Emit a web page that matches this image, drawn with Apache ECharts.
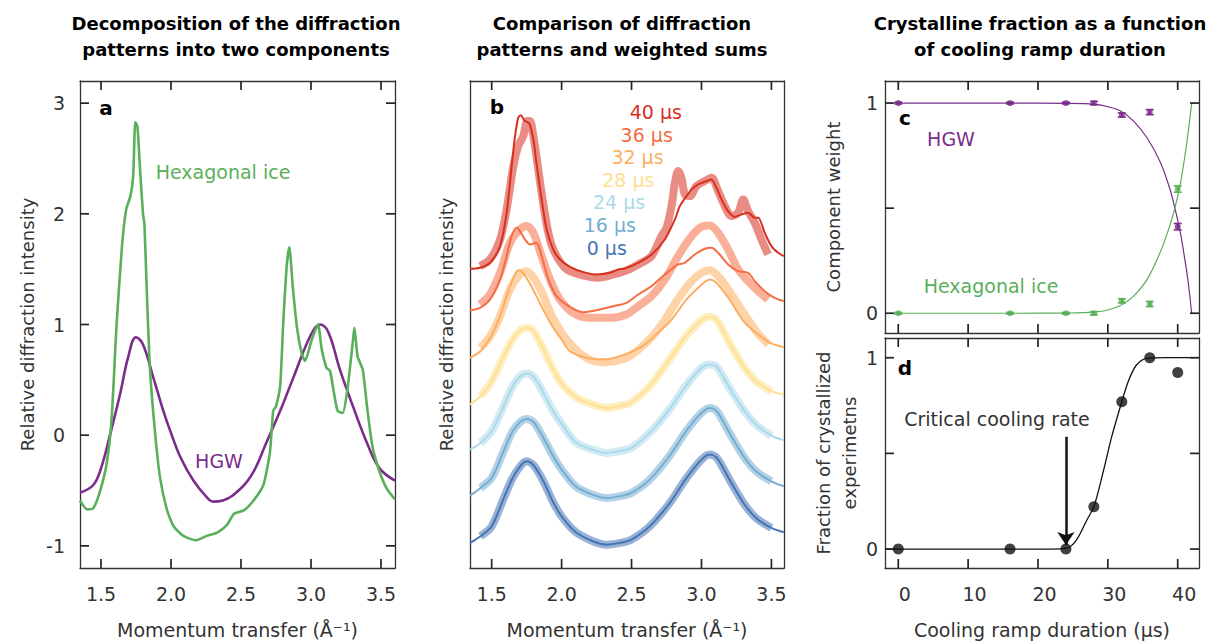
<!DOCTYPE html>
<html>
<head>
<meta charset="utf-8">
<title>Crystallization of supercooled water</title>
<script src="https://cdn.jsdelivr.net/npm/echarts@6/dist/echarts.min.js"></script>
<style>
  html, body { margin: 0; padding: 0; background: #fff; }
  #chart { width: 1210px; height: 644px; }
</style>
</head>
<body>
<div id="chart"></div>
<script>
const FONT = 'DejaVu Sans';
const INK = '#333';
const GREEN = '#5aaf5a';
const PURPLE = '#7b2d8b';

// panel a: the two components
const hgwQ = [1.35, 1.445, 1.5, 1.564, 1.636, 1.695, 1.75, 1.80, 1.874, 1.945, 2.0, 2.064, 2.16, 2.255, 2.30, 2.37, 2.5, 2.59, 2.68, 2.78, 2.874, 3.0, 3.064, 3.124, 3.207, 3.30, 3.40, 3.49, 3.6];
const hgwI = [-0.52, -0.45, -0.30, 0.0, 0.37, 0.71, 0.885, 0.82, 0.52, 0.22, 0.02, -0.19, -0.41, -0.56, -0.60, -0.59, -0.48, -0.33, -0.07, 0.22, 0.52, 0.91, 1.0, 0.93, 0.59, 0.26, -0.07, -0.30, -0.41];
const hexQ = [1.35, 1.40, 1.445, 1.49, 1.54, 1.576, 1.61, 1.65, 1.68, 1.71, 1.73, 1.745, 1.76, 1.78, 1.80, 1.81, 1.826, 1.85, 1.885, 1.92, 1.97, 2.017, 2.088, 2.18, 2.255, 2.33, 2.40, 2.45, 2.52, 2.59, 2.66, 2.707, 2.73, 2.75, 2.78, 2.80, 2.826, 2.845, 2.87, 2.90, 2.933, 2.957, 3.005, 3.05, 3.076, 3.11, 3.136, 3.16, 3.19, 3.226, 3.26, 3.30, 3.31, 3.333, 3.37, 3.40, 3.44, 3.49, 3.54, 3.6];
const hexI = [-0.59, -0.67, -0.66, -0.52, -0.26, 0.15, 0.97, 1.71, 2.04, 2.16, 2.34, 2.83, 2.79, 2.38, 2.0, 1.91, 1.34, 0.59, 0.04, -0.37, -0.67, -0.82, -0.91, -0.95, -0.91, -0.88, -0.81, -0.71, -0.68, -0.59, -0.45, -0.15, 0.22, 0.26, 0.45, 0.97, 1.52, 1.70, 1.34, 0.97, 0.74, 0.67, 0.86, 1.0, 0.78, 0.61, 0.58, 0.41, 0.22, 0.20, 0.41, 0.86, 0.97, 0.71, 0.59, 0.26, -0.11, -0.33, -0.48, -0.58];
const qTicks = [1.5, 2.0, 2.5, 3.0, 3.5];
const intensityTicks = [-1, 0, 1, 2, 3];

// panel b: measured patterns (bands) and weighted sums (lines), stacked
const qLow = [1.345, 1.42, 1.5, 1.58, 1.65, 1.71, 1.75, 1.80, 1.87, 1.94, 2.0, 2.1, 2.22, 2.32, 2.44, 2.5, 2.63, 2.77, 2.89, 3.0, 3.06, 3.11, 3.2, 3.3, 3.39, 3.5, 3.588];
const sum0 = [8.0, 10.0, 13.0, 20.8, 27.5, 31.3, 32.5, 31.3, 26.5, 20.2, 16.0, 11.3, 8.6, 7.5, 8.2, 9.0, 13.0, 19.8, 27.3, 33.0, 34.5, 33.5, 27.0, 20.0, 15.5, 12.5, 11.2];
const sum16 = [22.2, 24.5, 27.5, 35.0, 41.5, 44.5, 45.2, 44.2, 39.5, 34.0, 30.0, 25.0, 22.5, 21.5, 22.2, 23.0, 27.0, 34.0, 41.5, 47.0, 48.5, 47.5, 41.0, 34.0, 29.5, 26.5, 25.0];
const sum24 = [36.0, 38.0, 41.5, 48.5, 55.0, 58.2, 58.8, 57.8, 53.0, 47.5, 43.7, 38.2, 36.0, 35.0, 35.8, 36.5, 41.0, 48.0, 55.2, 60.5, 61.5, 60.8, 54.5, 48.0, 43.5, 40.2, 38.8];
const sum28 = [49.5, 52.0, 56.5, 63.5, 69.0, 72.0, 72.5, 71.5, 66.0, 60.0, 55.8, 51.8, 49.5, 48.5, 49.3, 50.2, 55.0, 63.0, 70.0, 74.8, 75.8, 74.8, 68.0, 61.0, 56.5, 53.5, 52.5];

const q32 = [1.345, 1.42, 1.49, 1.56, 1.607, 1.655, 1.69, 1.72, 1.77, 1.82, 1.88, 1.94, 2.0, 2.06, 2.18, 2.3, 2.45, 2.58, 2.69, 2.786, 2.893, 2.964, 3.06, 3.107, 3.2, 3.3, 3.39, 3.49, 3.588];
const sum32 = [63.5, 65.5, 69.5, 76.0, 82.0, 87.5, 89.8, 89.2, 86.0, 82.0, 77.0, 72.5, 69.0, 65.5, 63.5, 63.0, 64.5, 67.0, 71.0, 75.0, 81.0, 84.0, 87.0, 86.0, 81.0, 74.5, 71.0, 68.0, 66.7];
const qBand32 = [1.42, 1.49, 1.56, 1.63, 1.70, 1.75, 1.80, 1.86, 1.92, 2.0, 2.1, 2.2, 2.3, 2.45, 2.55, 2.65, 2.74, 2.83, 2.93, 3.0, 3.06, 3.12, 3.2, 3.3, 3.4, 3.48];
const band32 = [66.5, 70.0, 76.0, 84.0, 88.5, 89.5, 87.5, 83.0, 77.0, 71.0, 66.0, 63.0, 62.2, 63.2, 66.0, 70.0, 75.0, 81.0, 86.5, 89.0, 89.8, 88.0, 83.5, 77.0, 71.0, 67.5];

const q36 = [1.345, 1.417, 1.488, 1.56, 1.607, 1.643, 1.679, 1.702, 1.738, 1.774, 1.82, 1.857, 1.905, 1.964, 2.06, 2.155, 2.25, 2.369, 2.464, 2.548, 2.643, 2.738, 2.833, 2.881, 2.952, 3.024, 3.071, 3.119, 3.19, 3.262, 3.333, 3.381, 3.452, 3.524, 3.588];
const sum36 = [77.8, 78.5, 81.0, 87.0, 94.0, 100.0, 102.5, 101.5, 99.0, 97.5, 98.0, 94.0, 87.0, 82.0, 78.8, 77.2, 77.8, 79.0, 80.0, 82.5, 85.0, 88.5, 91.5, 92.0, 94.5, 96.2, 96.5, 95.0, 91.5, 89.5, 89.0, 86.5, 83.5, 81.5, 80.5];
const qBand36 = [1.417, 1.488, 1.56, 1.631, 1.702, 1.75, 1.798, 1.857, 1.917, 1.988, 2.083, 2.202, 2.345, 2.464, 2.548, 2.643, 2.738, 2.833, 2.93, 3.0, 3.06, 3.119, 3.19, 3.262, 3.333, 3.405, 3.476];
const band36 = [79.5, 82.5, 89.0, 98.0, 102.0, 103.0, 101.0, 94.0, 87.0, 81.0, 77.0, 75.5, 75.5, 76.5, 79.0, 82.0, 87.0, 94.0, 100.0, 102.8, 103.2, 101.0, 96.0, 90.0, 86.5, 83.5, 81.0];

const q40 = [1.345, 1.417, 1.488, 1.56, 1.607, 1.643, 1.667, 1.69, 1.707, 1.738, 1.769, 1.798, 1.82, 1.857, 1.893, 1.94, 1.988, 2.06, 2.155, 2.25, 2.345, 2.405, 2.452, 2.548, 2.643, 2.738, 2.81, 2.845, 2.893, 2.93, 2.976, 3.036, 3.071, 3.107, 3.143, 3.19, 3.238, 3.286, 3.333, 3.381, 3.405, 3.452, 3.5, 3.548, 3.588];
const sum40 = [90.2, 90.5, 92.0, 97.0, 107.0, 121.0, 130.0, 135.5, 136.2, 134.5, 133.8, 129.0, 122.0, 111.0, 102.0, 96.0, 93.0, 90.8, 89.2, 88.5, 89.0, 90.0, 90.3, 92.0, 94.5, 99.0, 105.0, 109.0, 112.0, 114.0, 115.5, 116.5, 117.0, 114.5, 111.0, 107.5, 105.8, 106.5, 107.0, 105.5, 105.5, 101.0, 97.0, 95.0, 94.0];
const qBand40 = [1.417, 1.488, 1.56, 1.607, 1.655, 1.69, 1.726, 1.755, 1.774, 1.798, 1.82, 1.857, 1.905, 1.952, 2.036, 2.155, 2.25, 2.345, 2.452, 2.548, 2.643, 2.714, 2.75, 2.786, 2.81, 2.833, 2.857, 2.881, 2.917, 2.964, 3.024, 3.071, 3.119, 3.167, 3.214, 3.262, 3.298, 3.333, 3.381, 3.429, 3.476];
const band40 = [91.0, 93.0, 99.0, 108.0, 121.0, 127.0, 130.0, 134.5, 134.5, 130.0, 124.0, 113.0, 101.0, 95.0, 90.0, 88.2, 87.5, 88.2, 89.5, 91.5, 94.0, 100.0, 102.5, 109.0, 116.0, 119.5, 117.5, 112.5, 112.0, 115.0, 116.5, 117.5, 113.5, 109.0, 106.0, 107.0, 111.0, 107.5, 104.0, 99.0, 94.5];

const rampLabels = ['40 µs', '36 µs', '32 µs', '28 µs', '24 µs', '16 µs', '0 µs'];
const rampColors = ['#d7301f', '#f46d43', '#fdae61', '#fee090', '#abd9e9', '#74add1', '#4575b4'];

// panel c: component weights
const rampUs = [0, 16, 24, 28, 32, 36, 40];
const hgwWeight = [1.0, 1.0, 1.0, 1.0, 0.943, 0.957, 0.412];
const hexWeight = [0.0, 0.0, 0.0, 0.0, 0.059, 0.044, 0.591];
const weightErr = [0.004, 0.004, 0.004, 0.008, 0.01, 0.012, 0.015];
const fitUs = [0, 16, 24, 28, 30.3, 32, 33.65, 35.6, 37.5, 38.9, 39.6, 40.4, 41.0, 41.5, 42.0];
const hgwFit = [1, 1, 0.999, 0.995, 0.98, 0.959, 0.915, 0.835, 0.72, 0.59, 0.5, 0.38, 0.26, 0.15, 0.0];
const hexFit = [0, 0, 0.001, 0.005, 0.018, 0.04, 0.08, 0.16, 0.29, 0.42, 0.5, 0.62, 0.74, 0.86, 1.0];

// panel d: crystallized fraction
const crystFrac = [0, 0, 0, 0.221, 0.77, 1.0, 0.923];
const sigUs = [-1.9, 16, 22, 24, 25.5, 27, 28, 29.4, 30.5, 32, 33, 34.1, 35.6, 38.4, 43.05];
const sigFit = [0, 0, 0, 0.003, 0.047, 0.152, 0.221, 0.413, 0.58, 0.77, 0.883, 0.962, 0.997, 1.0, 1.0];
const usTicks = [0, 10, 20, 30, 40];
const unitTicks = [0, 0.5, 1];

const pairs = (xs, ys) => xs.map((x, i) => [x, ys[i]]);

const label = (values, extra) => Object.assign({ show: true, customValues: values, color: INK, fontFamily: FONT, fontSize: 19 }, extra);
const axisName = (text, gap, extra) => ({
    name: text, nameLocation: 'middle', nameGap: gap, nameMoveOverlap: false,
    nameTextStyle: Object.assign({ color: INK, fontFamily: FONT, fontSize: 19 }, extra),
});
const frameAxis = (gridIndex, position, min, max, extra) => Object.assign({
    type: 'value', gridIndex, position, min, max,
    axisLine: { show: true, onZero: false, lineStyle: { color: INK, width: 1.3 } },
    splitLine: { show: false },
    axisTick: { show: false },
    axisLabel: { show: false },
}, extra);

const frame = { show: false, containLabel: false, outerBoundsMode: 'none' };

const line = (xi, yi, data, color, width, extra) => Object.assign({
    type: 'line', xAxisIndex: xi, yAxisIndex: yi, data, showSymbol: false, symbol: 'none',
    lineStyle: { color, width }, itemStyle: { color }, silent: true,
}, extra);

// stacked curves of panel b, bottom to top
const inBand = (p) => p[0] > 1.41 && p[0] < 3.51;
const stack = [
    { color: rampColors[6], line: pairs(qLow, sum0), band: pairs(qLow, sum0).filter(inBand) },
    { color: rampColors[5], line: pairs(qLow, sum16), band: pairs(qLow, sum16).filter(inBand) },
    { color: rampColors[4], line: pairs(qLow, sum24), band: pairs(qLow, sum24).filter(inBand) },
    { color: rampColors[3], line: pairs(qLow, sum28), band: pairs(qLow, sum28).filter(inBand) },
    { color: rampColors[2], line: pairs(q32, sum32), band: pairs(qBand32, band32) },
    { color: rampColors[1], line: pairs(q36, sum36), band: pairs(qBand36, band36) },
    { color: rampColors[0], line: pairs(q40, sum40), band: pairs(qBand40, band40) },
];
const stackSeries = [];
stack.forEach((c) => {
    stackSeries.push(line(2, 2, c.band, c.color, 8, { smooth: 0.3, lineStyle: { color: c.color, width: 8, opacity: 0.55, cap: 'butt' } }));
    stackSeries.push(line(2, 2, c.line, c.color, 2, { smooth: 0.3 }));
});

const errorBars = (values, color) => ({
    type: 'custom', xAxisIndex: 4, yAxisIndex: 4, silent: true,
    data: rampUs.map((t, i) => [t, values[i], weightErr[i]]),
    renderItem: (params, api) => {
        const x = api.value(0), y = api.value(1), e = api.value(2);
        const px = api.coord([x, y])[0];
        const ty = api.coord([x, y + e])[1];
        const by = api.coord([x, y - e])[1];
        const st = () => ({ stroke: color, lineWidth: 1.6 });
        return {
            type: 'group', children: [
                { type: 'line', shape: { x1: px, y1: ty, x2: px, y2: by }, style: st() },
                { type: 'line', shape: { x1: px - 4, y1: ty, x2: px + 4, y2: ty }, style: st() },
                { type: 'line', shape: { x1: px - 4, y1: by, x2: px + 4, y2: by }, style: st() },
            ],
        };
    },
});

const text = (x, y, str, color, extra) => ({
    type: 'text', x, y, silent: true,
    style: Object.assign({
        text: str, fill: color, fontFamily: FONT, fontSize: 19,
        align: 'center', verticalAlign: 'middle', textAlign: 'center', textVerticalAlign: 'middle',
    }, extra),
});
const bold = (size) => ({ fontWeight: 'bold', fontSize: size });

const option = {
    animation: false,
    backgroundColor: '#fff',
    grid: [
        Object.assign({ left: 80, top: 81, width: 315, height: 487 }, frame),
        Object.assign({ left: 470, top: 81, width: 314, height: 487 }, frame),
        Object.assign({ left: 885, top: 81, width: 314, height: 252 }, frame),
        Object.assign({ left: 885, top: 338, width: 314, height: 230 }, frame),
    ],
    xAxis: [
        frameAxis(0, 'bottom', 1.35, 3.6, Object.assign({
            axisLabel: label(qTicks, { margin: 16, formatter: (v) => v.toFixed(1) }),
        }, axisName('Momentum transfer (Å⁻¹)', 52))),
        frameAxis(0, 'top', 1.35, 3.6),
        frameAxis(1, 'bottom', 1.345, 3.59, Object.assign({
            axisLabel: label(qTicks, { margin: 16, formatter: (v) => v.toFixed(1) }),
        }, axisName('Momentum transfer (Å⁻¹)', 52))),
        frameAxis(1, 'top', 1.345, 3.59),
        frameAxis(2, 'bottom', -1.9, 43.05),
        frameAxis(2, 'top', -1.9, 43.05),
        frameAxis(3, 'bottom', -1.9, 43.05, Object.assign({
            axisLabel: label(usTicks, { margin: 16, padding: [0, 0, 0, 13] }),
        }, axisName('Cooling ramp duration (µs)', 52))),
        frameAxis(3, 'top', -1.9, 43.05),
    ],
    yAxis: [
        frameAxis(0, 'left', -1.2, 3.2, Object.assign({
            axisLabel: label(intensityTicks, { margin: 15 }),
        }, axisName('Relative diffraction intensity', 44, { fontSize: 18 }))),
        frameAxis(0, 'right', -1.2, 3.2),
        frameAxis(1, 'left', 0.5, 146.5, axisName('Relative diffraction intensity', 15, { fontSize: 18 })),
        frameAxis(1, 'right', 0.5, 146.5),
        frameAxis(2, 'left', -0.094, 1.105, Object.assign({
            axisLabel: label([0, 1], { margin: 7 }),
        }, axisName('Component weight', 43, { fontSize: 18 }))),
        frameAxis(2, 'right', -0.094, 1.105),
        frameAxis(3, 'left', -0.099, 1.103, Object.assign({
            axisLabel: label([0, 1], { margin: 7 }),
        }, axisName('Fraction of crystallized\nexperimetns', 23, { fontSize: 18, lineHeight: 26 }))),
        frameAxis(3, 'right', -0.099, 1.103),
    ],
    series: [
        line(0, 0, pairs(hgwQ, hgwI), PURPLE, 2.6, { smooth: 0.4 }),
        line(0, 0, pairs(hexQ, hexI), GREEN, 2.6, { smooth: 0.2 }),
        ...stackSeries,
        line(4, 4, pairs(fitUs, hgwFit), PURPLE, 1.2, { smooth: 0.3 }),
        line(4, 4, pairs(fitUs, hexFit), GREEN, 1.2, { smooth: 0.3 }),
        errorBars(hgwWeight, PURPLE),
        errorBars(hexWeight, GREEN),
        { type: 'scatter', xAxisIndex: 4, yAxisIndex: 4, data: pairs(rampUs, hgwWeight), symbolSize: 6, itemStyle: { color: PURPLE }, silent: true },
        { type: 'scatter', xAxisIndex: 4, yAxisIndex: 4, data: pairs(rampUs, hexWeight), symbolSize: 6, itemStyle: { color: GREEN }, silent: true },
        line(6, 6, pairs(sigUs, sigFit), '#111', 1.3, { smooth: 0.3 }),
        {
            type: 'scatter', xAxisIndex: 6, yAxisIndex: 6, data: pairs(rampUs, crystFrac),
            symbolSize: 11, itemStyle: { color: '#111' }, silent: true,
            markLine: {
                silent: true, symbol: ['none', 'arrow'], symbolSize: 13,
                label: { show: false },
                lineStyle: { color: '#111', width: 2.5, type: 'solid' },
                data: [[{ coord: [24, 0.587] }, { coord: [24, 0.021] }]],
            },
        },
    ],
    graphic: [
        text(236, 23, 'Decomposition of the diffraction', '#000', bold(18)),
        text(236, 49, 'patterns into two components', '#000', bold(18)),
        text(622, 23, 'Comparison of diffraction', '#000', bold(18)),
        text(622, 49, 'patterns and weighted sums', '#000', bold(18)),
        text(1040, 23, 'Crystalline fraction as a function', '#000', bold(18)),
        text(1040, 49, 'of cooling ramp duration', '#000', bold(18)),
        text(106, 108, 'a', '#000', bold(20)),
        text(497, 107, 'b', '#000', bold(20)),
        text(905, 118, 'c', '#000', bold(20)),
        text(905, 368, 'd', '#000', bold(20)),
        text(223, 172, 'Hexagonal ice', GREEN),
        text(219, 461, 'HGW', PURPLE),
        text(951, 139, 'HGW', PURPLE),
        text(991, 286, 'Hexagonal ice', GREEN),
        text(997, 419, 'Critical cooling rate', INK),
        ...rampLabels.map((s, i) => text(682 - 9.2 * i, 112 + 22.6 * i, s, rampColors[i], { align: 'right', textAlign: 'right' })),
    ],
};

const chart = echarts.init(document.getElementById('chart'), null, { renderer: 'svg' });
chart.setOption(option);

// inward ticks on all four edges, placed through each panel's own axes
const TICK = 9;
const tickLines = [];
const seg = (x1, y1, x2, y2) => ({
    type: 'line', z: 100, silent: true,
    shape: { x1, y1, x2, y2 }, style: { stroke: '#222', lineWidth: 1.7 },
});
const addTicks = (xi, yi, xTicks, yTicks) => {
    const xa = option.xAxis[xi], ya = option.yAxis[yi];
    const toX = (v) => chart.convertToPixel({ xAxisIndex: xi }, v);
    const toY = (v) => chart.convertToPixel({ yAxisIndex: yi }, v);
    const left = toX(xa.min), right = toX(xa.max);
    const bottom = toY(ya.min), top = toY(ya.max);
    xTicks.forEach((v) => {
        const px = toX(v);
        tickLines.push(seg(px, bottom, px, bottom - TICK), seg(px, top, px, top + TICK));
    });
    yTicks.forEach((v) => {
        const py = toY(v);
        tickLines.push(seg(left, py, left + TICK, py), seg(right, py, right - TICK, py));
    });
};
addTicks(0, 0, qTicks, intensityTicks);
addTicks(2, 2, qTicks, []);
addTicks(4, 4, usTicks, unitTicks);
addTicks(6, 6, usTicks, unitTicks);
chart.setOption({ graphic: option.graphic.concat(tickLines) });
</script>
</body>
</html>
